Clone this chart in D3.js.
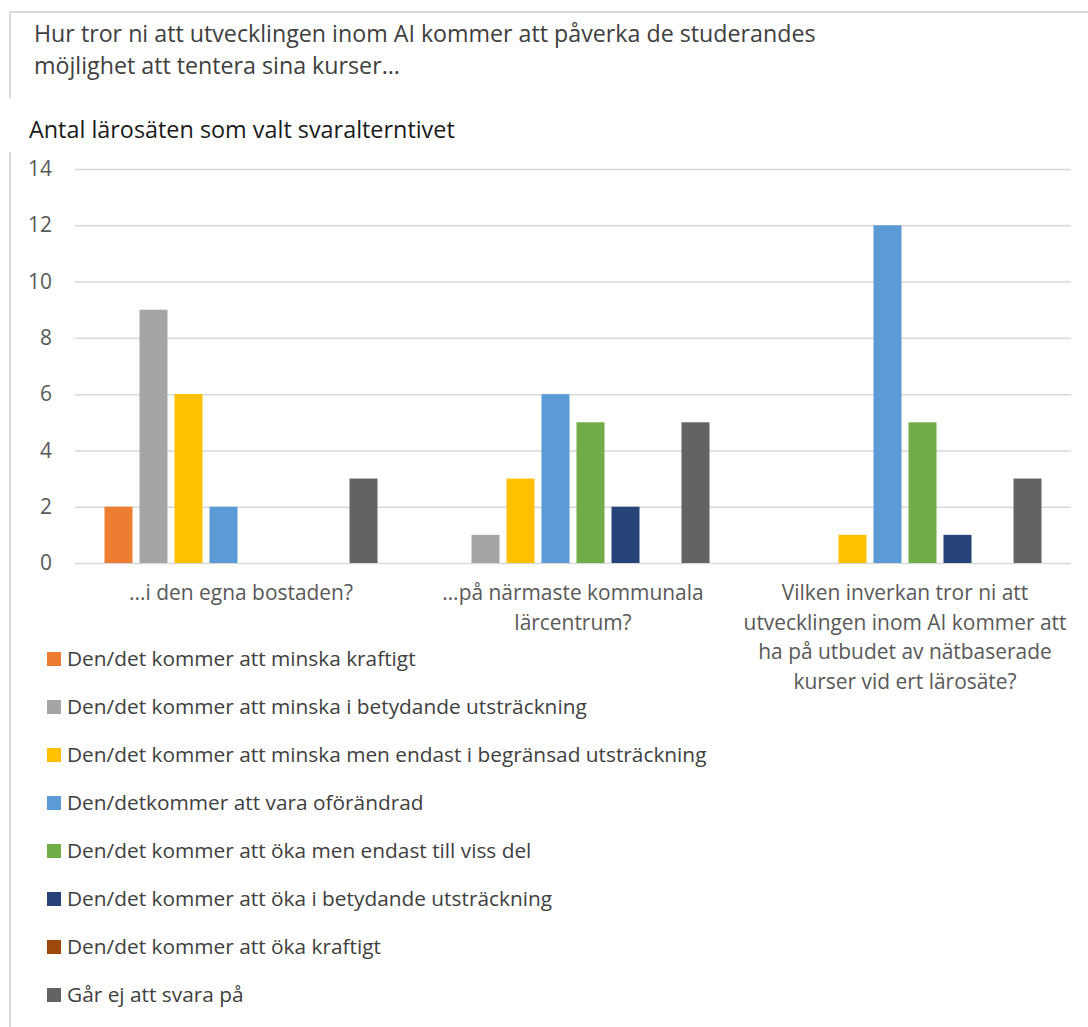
<!DOCTYPE html>
<html>
<head>
<meta charset="utf-8">
<script src="https://cdn.jsdelivr.net/npm/d3@7"></script>
<style>
  html, body { margin: 0; padding: 0; background: #fff; }
  svg { display: block; font-family: "Open Sans", Lato, sans-serif; }
</style>
</head>
<body>
<svg id="chart" width="1088" height="1027"></svg>
<script>
const titleLines = [
  "Hur tror ni att utvecklingen inom AI kommer att påverka de studerandes",
  "möjlighet att tentera sina kurser..."
];
const yAxisTitle = "Antal lärosäten som valt svaralterntivet";
const categories = [
  ["...i den egna bostaden?"],
  ["…på närmaste kommunala", "lärcentrum?"],
  ["Vilken inverkan tror ni att", "utvecklingen inom AI kommer att", "ha på utbudet av nätbaserade", "kurser vid ert lärosäte?"]
];
const seriesNames = [
  "Den/det kommer att minska kraftigt",
  "Den/det kommer att minska i betydande utsträckning",
  "Den/det kommer att minska men endast i begränsad utsträckning",
  "Den/detkommer att vara oförändrad",
  "Den/det kommer att öka men endast till viss del",
  "Den/det kommer att öka i betydande utsträckning",
  "Den/det kommer att öka kraftigt",
  "Går ej att svara på"
];
const seriesColors = ["#ED7D31", "#A5A5A5", "#FFC000", "#5B9BD5", "#70AD47", "#264478", "#9E480E", "#636363"];
// values per series, one per category
const minskaKraftigt   = [2, 0, 0];
const minskaBetydande  = [9, 1, 0];
const minskaBegransad  = [6, 3, 1];
const oforandrad       = [2, 6, 12];
const okaVissDel       = [0, 5, 5];
const okaBetydande     = [0, 2, 1];
const okaKraftigt      = [0, 0, 0];
const garEjAttSvara    = [3, 5, 3];
const seriesValues = [minskaKraftigt, minskaBetydande, minskaBegransad, oforandrad, okaVissDel, okaBetydande, okaKraftigt, garEjAttSvara];
const yTicks = [0, 2, 4, 6, 8, 10, 12, 14];

const svg = d3.select("#chart");

// font size that makes a sample string reach a target width
function fitSize(sample, targetWidth) {
  const t = svg.append("text").attr("font-size", 20).text(sample);
  const w = t.node().getComputedTextLength();
  t.remove();
  return 20 * targetWidth / w;
}
const titleSize = fitSize(titleLines[0], 782);
const subSize = fitSize(yAxisTitle, 426);
const legendSize = fitSize(seriesNames[2], 640);
const catSize = fitSize(categories[0][0], 224);
const tickSize = catSize;

// frame
const frameColor = "#d9d9d9";
svg.append("line").attr("x1", 9).attr("x2", 1088).attr("y1", 12).attr("y2", 12)
  .attr("stroke", frameColor).attr("stroke-width", 2);
svg.append("line").attr("x1", 10).attr("x2", 10).attr("y1", 12).attr("y2", 98)
  .attr("stroke", frameColor).attr("stroke-width", 2);
svg.append("line").attr("x1", 10).attr("x2", 10).attr("y1", 152).attr("y2", 1027)
  .attr("stroke", frameColor).attr("stroke-width", 2);

// title
svg.append("g").selectAll("text").data(titleLines).join("text")
  .attr("x", 34).attr("y", (d, i) => 34 + i * 32)
  .attr("dy", "0.35em")
  .attr("fill", "#404040").attr("font-size", titleSize)
  .text(d => d);

svg.append("text").attr("x", 29).attr("y", 130).attr("dy", "0.35em")
  .attr("fill", "#1a1a1a").attr("font-size", subSize).text(yAxisTitle);

const plot = { left: 75, right: 1071, top: 169, bottom: 563 };
const y = d3.scaleLinear().domain([0, 14]).range([plot.bottom, plot.top]);
const x0 = d3.scaleBand().domain(d3.range(categories.length)).range([plot.left, plot.right]).padding(0);
const x1 = d3.scaleBand().domain(d3.range(seriesNames.length)).range([26, 306]).paddingInner(0.2).paddingOuter(0.1);

// gridlines + y axis labels
const yAxis = d3.axisLeft(y).tickValues(yTicks).tickSize(-(plot.right - plot.left)).tickPadding(23);
const gy = svg.append("g").attr("transform", `translate(${plot.left},0)`).call(yAxis);
gy.select(".domain").remove();
gy.selectAll(".tick line").attr("stroke", "#d9d9d9").attr("stroke-width", 1.5);
gy.selectAll(".tick text").attr("fill", "#595959").attr("font-size", tickSize)
  .attr("font-family", "'Open Sans', sans-serif");

// bars
const groups = svg.append("g").selectAll("g").data(categories).join("g")
  .attr("transform", (d, i) => `translate(${x0(i)},0)`);
groups.selectAll("rect")
  .data((d, ci) => seriesValues.map((vals, si) => ({ si, v: vals[ci] })))
  .join("rect")
  .attr("x", d => x1(d.si))
  .attr("width", x1.bandwidth())
  .attr("y", d => y(d.v))
  .attr("height", d => y(0) - y(d.v))
  .attr("fill", d => seriesColors[d.si]);

// category labels
const catG = svg.append("g");
categories.forEach((lines, ci) => {
  catG.append("g").selectAll("text").data(lines).join("text")
    .attr("x", x0(ci) + x0.bandwidth() / 2)
    .attr("y", (d, i) => 593 + i * 29.5)
    .attr("dy", "0.35em")
    .attr("text-anchor", "middle")
    .attr("fill", "#595959").attr("font-size", catSize)
    .text(d => d);
});

// legend
const leg = svg.append("g").selectAll("g").data(seriesNames).join("g")
  .attr("transform", (d, i) => `translate(47,${659 + i * 48})`);
leg.append("rect").attr("x", 0).attr("y", -7).attr("width", 14).attr("height", 14)
  .attr("fill", (d, i) => seriesColors[i]);
leg.append("text").attr("x", 20).attr("y", 0).attr("dy", "0.35em")
  .attr("fill", "#404040").attr("font-size", legendSize).text(d => d);
</script>
</body>
</html>
